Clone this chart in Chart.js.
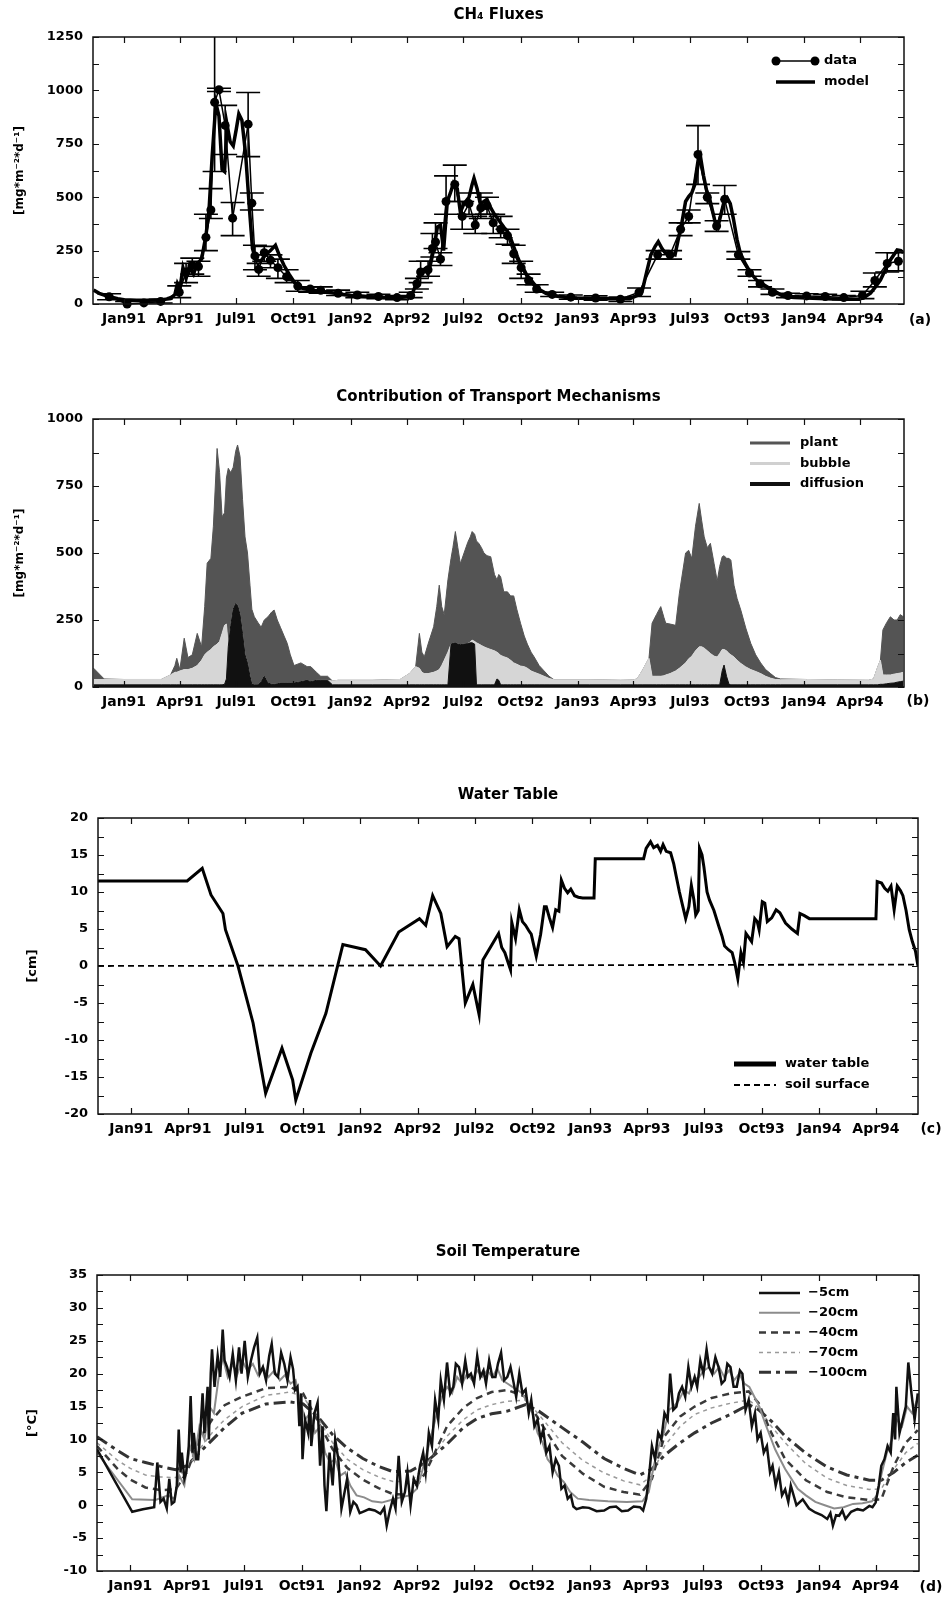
<!DOCTYPE html>
<html>
<head>
<meta charset="utf-8">
<title>CH4 fluxes, transport, water table and soil temperature</title>
<script src="https://cdn.jsdelivr.net/npm/chart.js@4.4.1/dist/chart.umd.min.js"></script>
<style>
  html, body { margin: 0; padding: 0; background: #fff; }
  body { width: 942px; height: 1598px; position: relative; overflow: hidden; }
  canvas { position: absolute; left: 0; }
</style>
</head>
<body>
<canvas id="fluxChart" width="942" height="345" style="top:0px"></canvas>
<canvas id="transportChart" width="942" height="340" style="top:380px"></canvas>
<canvas id="waterChart" width="942" height="380" style="top:770px"></canvas>
<canvas id="tempChart" width="942" height="368" style="top:1230px"></canvas>
<script>
// x values are days since 1 Jan 1991
const tickDays = [0, 90, 181, 273, 365, 456, 547, 639, 731, 821, 912, 1004, 1096, 1186];
const tickLabels = ['Jan91', 'Apr91', 'Jul91', 'Oct91', 'Jan92', 'Apr92', 'Jul92', 'Oct92',
                    'Jan93', 'Apr93', 'Jul93', 'Oct93', 'Jan94', 'Apr94'];

// (a) CH4 fluxes - model
const modelDays = [
  -49, -40, -25, -10, 0, 20, 40, 60, 75, 82,
  86, 90, 95, 100, 105, 112, 118, 125, 132, 137,
  142, 148, 153, 158, 162, 166, 171, 176, 181, 185,
  190, 196, 202, 207, 212, 220, 228, 236, 244, 250,
  258, 266, 275, 285, 300, 320, 340, 365, 390, 420,
  445, 458, 466, 478, 485, 490, 495, 500, 505, 510,
  515, 521, 526, 531, 537, 542, 548, 556, 561, 564,
  569, 574, 580, 585, 591, 597, 602, 607, 612, 618,
  624, 629, 634, 640, 645, 650, 656, 662, 670, 680,
  690, 710, 730, 760, 790, 815, 827, 835, 843, 849,
  856, 861, 867, 872, 880, 888, 893, 899, 905, 910,
  915, 920, 925, 929, 934, 939, 943, 948, 953, 957,
  962, 967, 972, 977, 982, 988, 993, 1001, 1010, 1020,
  1031, 1042, 1053, 1063, 1080, 1100, 1130, 1160, 1185, 1195,
  1203, 1211, 1219, 1227, 1235, 1246, 1252, 1256];
const modelFlux = [
  65, 50, 35, 25, 20, 18, 18, 20, 25, 45,
  95, 70, 170, 120, 175, 140, 190, 210, 320, 440,
  690, 940, 880, 630, 620, 840, 760, 740, 820, 890,
  860, 700, 450, 260, 210, 200, 230, 250, 275, 230,
  180, 140, 100, 75, 65, 58, 50, 40, 35, 30,
  30, 35, 58, 150, 165, 140, 200, 270, 360, 370,
  250, 480, 520, 566, 540, 430, 470, 500, 560, 589,
  540, 470, 480, 490, 450, 420, 400, 380, 360, 340,
  300, 260, 222, 180, 159, 130, 112, 90, 66, 50,
  40, 32, 28, 25, 24, 25, 40, 60, 159, 230,
  270, 292, 260, 240, 235, 230, 300, 380, 480, 503,
  520, 560, 650, 690, 600, 530, 503, 440, 380, 360,
  420, 480, 497, 470, 400, 300, 240, 190, 145, 110,
  90, 70, 52, 35, 30, 28, 25, 22, 22, 35,
  51, 80, 112, 160, 206, 253, 250, 240];

// (a) CH4 fluxes - measured, with error range
const obsDays = [
  -24, 5, 32, 59, 89, 100, 110, 120, 132, 140, 146, 153, 163, 175, 200,
  206, 211, 217, 226, 236, 248, 262, 280, 300, 317, 345, 376, 410, 440, 462,
  472, 478, 490, 497, 502, 510, 519, 533, 545, 556, 566, 575, 585, 595, 607,
  618, 628, 640, 652, 665, 690, 720, 760, 800, 830, 860, 880, 897, 910, 925,
  940, 955, 968, 990, 1008, 1025, 1045, 1070, 1100, 1130, 1160, 1190, 1210, 1230, 1248];
const obsFlux = [
  34, 0, 5, 12, 55, 150, 180, 175, 312, 440, 944, 1003, 836, 402, 842,
  472, 225, 162, 240, 205, 170, 128, 84, 70, 64, 50, 42, 35, 30, 40,
  95, 150, 160, 260, 290, 210, 480, 560, 410, 470, 370, 450, 460, 380, 350,
  320, 235, 170, 110, 70, 45, 32, 28, 22, 55, 230, 230, 350, 410, 700,
  500, 365, 490, 230, 145, 95, 55, 40, 38, 35, 30, 40, 110, 190, 200];
const obsLow = [
  20, -10, -5, 5, 30, 100, 140, 130, 250, 400, 620, 995, 700, 320, 690,
  440, 160, 130, 200, 170, 120, 100, 60, 55, 50, 40, 30, 25, 20, 30,
  70, 100, 130, 220, 260, 180, 420, 480, 350, 420, 330, 400, 420, 330, 310,
  280, 190, 120, 90, 55, 35, 22, 18, 12, 35, 210, 210, 320, 380, 560,
  470, 340, 420, 210, 130, 80, 45, 30, 28, 25, 20, 25, 80, 150, 155];
const obsHigh = [
  48, 12, 15, 22, 85, 190, 215, 200, 420, 540, 1300, 1010, 930, 475, 990,
  520, 275, 190, 270, 230, 210, 160, 110, 80, 80, 65, 55, 45, 40, 55,
  120, 200, 200, 330, 380, 240, 600, 650, 480, 520, 410, 520, 500, 420, 410,
  350, 275, 200, 140, 90, 55, 42, 38, 32, 75, 250, 250, 380, 440, 835,
  520, 390, 555, 245, 160, 110, 70, 50, 48, 45, 40, 60, 145, 240, 240];

// (b) transport mechanisms (stacked: diffusion, bubble, plant)
const transportDays = [
  -49, -32, 0, 60, 75, 82, 85, 90, 97, 103,
  110, 118, 125, 130, 134, 140, 144, 150, 154, 158,
  162, 165, 168, 172, 176, 180, 183, 187, 191, 195,
  199, 203, 206, 210, 216, 221, 226, 232, 238, 242,
  247, 252, 258, 263, 268, 274, 285, 295, 301, 310,
  317, 328, 336, 345, 400, 445, 460, 470, 476, 480,
  484, 490, 499, 504, 508, 512, 516, 522, 527, 530,
  534, 538, 542, 548, 554, 558, 561, 565, 568, 572,
  576, 580, 585, 591, 597, 601, 604, 607, 612, 618,
  623, 628, 633, 639, 645, 650, 656, 661, 669, 677,
  685, 693, 750, 800, 820, 827, 835, 846, 851, 858,
  865, 870, 873, 880, 889, 895, 905, 910, 915, 921,
  927, 931, 935, 940, 945, 951, 956, 960, 964, 967,
  971, 975, 978, 983, 988, 994, 1002, 1010, 1018, 1026,
  1034, 1042, 1050, 1058, 1100, 1150, 1200, 1208, 1214, 1219,
  1223, 1229, 1235, 1241, 1246, 1251, 1256];
const diffusion = [
  8, 8, 8, 8, 8, 8, 8, 8, 8, 8,
  8, 8, 8, 8, 8, 8, 8, 8, 8, 8,
  10, 30, 150, 230, 290, 312, 305, 270, 200, 120,
  90, 40, 10, 8, 8, 20, 40, 15, 10, 10,
  12, 15, 15, 15, 15, 15, 20, 25, 20, 25,
  25, 25, 8, 8, 8, 8, 8, 8, 8, 8,
  8, 8, 8, 8, 8, 8, 8, 8, 160, 163,
  165, 160, 158, 160, 162, 165, 165, 160, 8, 8,
  8, 8, 8, 8, 8, 30, 25, 8, 8, 8,
  8, 8, 8, 8, 8, 8, 8, 8, 8, 8,
  8, 8, 8, 8, 8, 8, 8, 8, 8, 8,
  8, 8, 8, 8, 8, 8, 8, 8, 8, 8,
  8, 8, 8, 8, 8, 8, 8, 8, 60, 82,
  40, 10, 8, 8, 8, 8, 8, 8, 8, 8,
  8, 8, 8, 8, 8, 8, 8, 8, 8, 10,
  10, 12, 14, 15, 18, 20, 22];
const bubble = [
  20, 20, 20, 20, 37, 47, 47, 52, 57, 57,
  62, 72, 92, 112, 122, 132, 142, 152, 162, 192,
  220, 205, 0, 0, 0, 0, 0, 0, 0, 0,
  0, 0, 0, 0, 0, 0, 0, 0, 0, 0,
  0, 0, 0, 0, 0, 0, 0, 0, 0, 0,
  0, 0, 14, 17, 17, 20, 42, 68, 62, 47,
  42, 42, 47, 52, 57, 72, 92, 122, 0, 0,
  0, 0, 0, 0, 0, 3, 10, 10, 157, 152,
  147, 142, 137, 132, 127, 100, 100, 110, 105, 100,
  92, 82, 77, 70, 68, 62, 52, 47, 40, 32,
  24, 19, 19, 17, 18, 22, 52, 99, 32, 32,
  32, 34, 37, 42, 52, 62, 82, 97, 107, 127,
  142, 142, 137, 127, 117, 107, 104, 117, 80, 58,
  95, 115, 112, 104, 92, 80, 67, 57, 50, 42,
  32, 25, 20, 19, 20, 18, 17, 22, 62, 90,
  35, 33, 31, 33, 32, 32, 33];
const plant = [
  42, 2, 0, 0, 0, 25, 52, 5, 117, 45,
  50, 120, 50, 180, 332, 340, 450, 730, 630, 435,
  420, 545, 666, 570, 530, 568, 598, 590, 500, 440,
  410, 340, 280, 254, 232, 203, 210, 247, 270, 277,
  238, 208, 175, 148, 105, 65, 70, 51, 56, 30,
  15, 15, 0, 0, 0, 0, 0, 0, 130, 75,
  63, 110, 170, 240, 315, 220, 170, 270, 320, 357,
  415, 360, 302, 340, 378, 392, 405, 400, 380, 375,
  365, 350, 345, 346, 285, 270, 295, 293, 242, 247,
  240, 250, 205, 160, 114, 90, 70, 57, 32, 20,
  8, 0, 0, 0, 0, 0, 0, 0, 198, 230,
  260, 218, 193, 185, 170, 280, 410, 405, 365, 465,
  535, 470, 415, 385, 411, 345, 283, 325, 346, 350,
  345, 355, 353, 268, 230, 199, 145, 98, 62, 40,
  25, 17, 7, 3, 0, 0, 0, 0, 0, 0,
  168, 195, 217, 202, 200, 218, 207];

// (c) water table [cm]
const waterDays = [
  -53, 89, 113, 127, 146, 150, 170, 194, 214, 240,
  257, 262, 286, 310, 337, 373, 397, 426, 459, 469,
  480, 493, 503, 516, 522, 532, 544, 554, 560, 585,
  590, 595, 600, 604, 606, 612, 618, 623, 628, 633,
  637, 645, 652, 658, 661, 666, 671, 676, 681, 685,
  690, 695, 700, 706, 712, 719, 737, 739, 816, 820,
  827, 832, 838, 843, 847, 852, 859, 864, 868, 873,
  878, 883, 888, 892, 896, 899, 903, 905, 909, 912,
  917, 921, 928, 936, 941, 945, 951, 957, 961, 966,
  971, 975, 979, 984, 988, 993, 997, 1000, 1005, 1009,
  1013, 1020, 1027, 1033, 1042, 1052, 1061, 1065, 1072, 1080,
  1186, 1188, 1195, 1200, 1205, 1210, 1215, 1220, 1225, 1229,
  1234, 1239, 1244, 1249, 1253];
const waterTable = [
  11.5, 11.5, 13.2, 9.6, 7.1, 4.9, 0, -7.7, -17.2, -11.1,
  -15.4, -18.1, -11.8, -6.4, 2.9, 2.2, 0, 4.6, 6.4, 5.5,
  9.5, 7.1, 2.6, 4.0, 3.7, -5.0, -2.5, -6.6, 0.8, 4.4,
  2.5, 1.8, 0.5, -0.5, 5.9, 3.7, 7.6, 6.0, 5.5, 4.8,
  4.3, 1.3, 4.3, 8.0, 8.0, 6.5, 5.2, 7.6, 7.4, 11.6,
  10.5, 9.9, 10.4, 9.5, 9.3, 9.2, 9.2, 14.5, 14.5, 15.9,
  16.8, 16.0, 16.3, 15.5, 16.4, 15.5, 15.3, 13.8, 12.1, 10,
  8.2, 6.4, 8, 10.9, 9, 6.9, 7.5, 15.9, 15, 13.4,
  10, 8.9, 7.5, 5.3, 4, 2.7, 2.2, 1.8, 0.5, -1.7,
  1.8, 0.5, 4.4, 3.8, 3.3, 6.4, 6.0, 4.9, 8.7, 8.5,
  6.0, 6.5, 7.6, 7.2, 5.8, 5.0, 4.4, 7.1, 6.8, 6.4,
  6.4, 11.4, 11.2, 10.5, 10.1, 10.8, 7.6, 10.8, 10.2, 9.5,
  7.5, 4.9, 3.3, 2, 0];
const surfaceDays = [-53, 1253];
const soilSurface = [0, 0.2];

// (d) soil temperature [°C]
const t5Days = [
  -53, 3, 20, 38, 43, 48, 53, 58, 62, 66,
  70, 74, 77, 80, 82, 86, 89, 93, 96, 99,
  101, 105, 108, 112, 115, 118, 120, 123, 125, 128,
  130, 134, 139, 143, 147, 150, 154, 158, 163, 168,
  173, 177, 182, 187, 192, 197, 202, 206, 211, 216,
  221, 225, 230, 235, 240, 245, 250, 255, 259, 262,
  266, 269, 272, 274, 278, 283, 286, 288, 293, 298,
  302, 306, 309, 312, 317, 322, 326, 331, 336, 341,
  345, 350, 355, 360, 365, 370, 380, 389, 398, 404,
  408, 413, 418, 422, 427, 432, 437, 441, 446, 451,
  456, 461, 466, 470, 475, 480, 485, 490, 494, 499,
  504, 509, 514, 518, 523, 528, 533, 537, 542, 547,
  552, 557, 562, 566, 571, 576, 581, 585, 590, 595,
  600, 605, 610, 614, 619, 624, 629, 634, 638, 643,
  648, 653, 657, 662, 667, 672, 677, 682, 686, 691,
  696, 701, 705, 710, 720, 730, 742, 754, 763, 773,
  782, 792, 801, 811, 816, 821, 826, 830, 835, 840,
  845, 850, 855, 859, 864, 869, 873, 878, 883, 888,
  893, 898, 902, 907, 912, 917, 921, 926, 931, 936,
  941, 946, 950, 955, 960, 965, 970, 974, 979, 984,
  989, 994, 998, 1003, 1008, 1013, 1018, 1022, 1027, 1032,
  1037, 1042, 1047, 1051, 1060, 1070, 1080, 1090, 1100, 1109,
  1114, 1118, 1123, 1128, 1133, 1138, 1147, 1157, 1166, 1176,
  1181, 1186, 1191, 1195, 1200, 1205, 1210, 1214, 1217, 1219,
  1224, 1229, 1234, 1238, 1243, 1248, 1253];
const t5 = [
  8.5, -1, -0.6, -0.3, 6.5, 0.5, 1.0, -0.5, 4.0, 0.2,
  0.5, 3, 11.5, 5, 8, 4, 5, 9, 16.6, 8,
  11, 7, 7, 12, 17, 11, 13.6, 18, 10, 20,
  23.7, 18, 22.7, 19.5, 26.7, 22, 21, 19.5, 23, 19,
  24, 20, 25, 19.5, 22, 24, 25.5, 20, 21, 19,
  22.7, 24.5, 20, 19.5, 23.2, 21.5, 19, 22.5, 20.7, 17.5,
  18, 12, 17, 7, 13, 11, 16, 9, 14, 15.6,
  6, 12, 3, -0.9, 8, 3, 10, 7, -0.5, 2,
  4, -1, 0.5, 0, -1.2, -1, -0.6, -0.8, -1.3, -0.4,
  -3.1, -0.8, 1, -0.5, 7.5, 0.5, 2, 5, 0, 4,
  3, 6, 8, 5, 11, 9, 16, 13, 19, 16,
  21.7, 17, 18, 21.5, 21, 18.5, 22, 19.5, 20, 18.5,
  22.7, 19.5, 20.5, 18.5, 22, 19.5, 19.5, 21.5, 23.2, 19,
  19.5, 21, 18.6, 16.5, 20, 17, 17.6, 14, 16, 12,
  13, 10, 11.5, 8, 9, 5, 7, 6, 2.5, 3,
  1, 1.5, -0.2, -0.6, -0.3, -0.4, -0.9, -0.8, -0.3, -0.2,
  -0.9, -0.8, -0.2, -0.3, -0.8, 1, 5, 9, 7, 11,
  10, 14, 13, 20, 14.5, 15, 17, 18, 16.5, 21,
  18, 19.5, 18, 22, 20, 23.7, 21, 20, 22.5, 21,
  18.5, 19, 21.5, 21, 18, 18, 20.5, 20, 14.5, 16,
  12, 14, 10, 11, 8, 9, 5, 6, 3, 5,
  1.5, 2.4, 0.5, 3, 0, 0.9, -0.5, -1.1, -1.5, -2.1,
  -1.2, -3.1, -1.5, -1.6, -0.8, -2.1, -1, -0.6, -0.8, -0.1,
  -0.3, 0.4, 3, 6, 7, 9, 8, 14, 10, 18,
  11, 13, 15, 21.7, 17, 13, 17];
const t20Days = [
  -53, 3, 40, 60, 70, 78, 86, 95, 102, 110,
  118, 126, 133, 140, 147, 155, 163, 170, 178, 186,
  195, 203, 211, 220, 229, 238, 246, 255, 263, 270,
  278, 286, 294, 302, 310, 318, 326, 334, 342, 350,
  360, 372, 385, 400, 415, 430, 445, 456, 464, 472,
  480, 488, 496, 504, 512, 520, 528, 536, 544, 552,
  560, 568, 576, 584, 592, 600, 608, 616, 624, 632,
  640, 648, 656, 664, 672, 680, 690, 700, 712, 730,
  760, 790, 815, 825, 833, 841, 849, 857, 865, 873,
  881, 889, 897, 905, 913, 921, 929, 937, 945, 953,
  961, 969, 977, 985, 993, 1001, 1010, 1018, 1026, 1034,
  1042, 1052, 1062, 1075, 1090, 1105, 1120, 1135, 1150, 1165,
  1180, 1188, 1196, 1204, 1212, 1220, 1228, 1236, 1244, 1252];
const t20 = [
  8.0, 0.9, 0.8, 1.5, 1.0, 4.5, 3.0, 9, 7, 12,
  10, 15, 14, 19, 22.5, 19.5, 21.5, 19.8, 22, 20.5,
  21.5, 19.8, 21, 19.5, 20.5, 19, 19.8, 18.5, 19, 16,
  13, 14, 11, 12, 8, 6.5, 7, 4.5, 5, 3,
  1.5, 1.2, 0.6, 0.4, 0.8, 1.2, 1.5, 2.5, 5, 8,
  11, 14, 16.5, 18, 17, 19.5, 18.5, 20, 19, 20.5,
  19.5, 20.5, 19.5, 20.8, 19, 18.5, 18, 17.5, 17, 15.5,
  14, 11, 9.5, 7, 6, 4.5, 3.5, 2, 1, 0.8,
  0.6, 0.5, 0.6, 2, 6, 9, 11, 14.5, 15, 16,
  17.5, 17, 19, 19.5, 20.5, 21, 20, 21, 19.5, 20.5,
  19, 20, 18.5, 18, 16.5, 15, 12.5, 10.5, 8.5, 7,
  5.5, 4, 2.5, 1.5, 0.5, 0, -0.5, -0.3, 0.2, 0.3,
  0.6, 1.5, 5, 8, 10, 13, 12, 15, 14, 16];
const deepDays = [
  -53, -20, 0, 24, 48, 72, 90, 110, 130, 150,
  178, 216, 254, 275, 300, 322, 345, 370, 395, 418,
  446, 470, 504, 530, 552, 575, 600, 629, 650, 687,
  720, 754, 785, 811, 830, 850, 875, 898, 925, 955,
  984, 1000, 1020, 1042, 1075, 1109, 1140, 1176, 1195, 1215,
  1234, 1253];
const t40 = [
  9, 5.5, 3.9, 2.7, 2.3, 2.4, 5, 10, 13, 15.2,
  16.5, 17.8, 18, 17, 12.5, 8.5, 5.7, 3.9, 2.6, 1.7,
  1.6, 5, 12, 14.8, 16.3, 17.2, 17.5, 16.5, 13, 7.5,
  4.8, 2.8, 2, 1.6, 4, 10.5, 13.5, 15, 16.3, 17,
  17.3, 15.5, 11, 7, 3.8, 2, 1.2, 0.8, 0.9, 6,
  9.5, 11.4];
const t70 = [
  9.5, 6.8, 5.6, 4.6, 4.3, 4.2, 5.5, 8.5, 11, 13,
  15, 16.7, 17.2, 16.5, 13, 9.5, 7, 5.4, 4.3, 3.6,
  3.6, 6, 10.5, 13, 14.5, 15.3, 15.8, 16, 13.8, 9.5,
  6.8, 4.9, 3.7, 3.1, 4.5, 9, 12, 13.8, 14.8, 15.5,
  16, 14.8, 12, 9.5, 6.3, 4.1, 3, 2.4, 2.5, 5.5,
  8, 9.4];
const t100 = [
  10.4, 8.3, 7.1, 6.5, 5.9, 5.4, 6, 8, 9.9, 11.8,
  14, 15.4, 15.7, 15.4, 13.3, 10.7, 8.7, 7.1, 5.9, 5.1,
  5.2, 6.5, 9.3, 11.8, 13.2, 13.9, 14.3, 15.3, 14.3, 11.8,
  9.6, 7.1, 5.6, 4.6, 5.5, 7.6, 9.5, 11, 12.5, 13.8,
  15.3, 14.5, 12.8, 10.5, 7.9, 5.8, 4.6, 3.8, 3.8, 5,
  6.5, 7.6];

const pts = (xs, ys) => xs.map((x, i) => ({ x: x, y: ys[i] }));

Chart.defaults.font.family = '"DejaVu Sans", sans-serif';
Chart.defaults.font.size = 13;
Chart.defaults.font.weight = 'bold';
Chart.defaults.color = '#000';

// frame, inward ticks, title, panel tag, legend and error bars
const panelDecor = {
  id: 'panelDecor',
  afterDatasetsDraw(chart, args, o) {
    if (!o.errorBars) return;
    const { ctx, chartArea: a, scales: { x, y } } = chart;
    const eb = o.errorBars;
    ctx.save();
    ctx.beginPath();
    ctx.rect(a.left, a.top, a.width, a.height);
    ctx.clip();
    ctx.strokeStyle = '#000';
    ctx.lineWidth = 1.6;
    eb.days.forEach((d, i) => {
      const px = x.getPixelForValue(d);
      const lo = y.getPixelForValue(eb.low[i]);
      const hi = y.getPixelForValue(eb.high[i]);
      ctx.beginPath();
      ctx.moveTo(px, lo); ctx.lineTo(px, hi);
      ctx.moveTo(px - eb.cap, lo); ctx.lineTo(px + eb.cap, lo);
      ctx.moveTo(px - eb.cap, hi); ctx.lineTo(px + eb.cap, hi);
      ctx.stroke();
    });
    ctx.restore();
  },
  afterDraw(chart, args, o) {
    const { ctx, chartArea: a, scales: { x, y } } = chart;
    ctx.save();
    ctx.strokeStyle = '#111';
    ctx.lineWidth = 1.5;
    ctx.strokeRect(a.left, a.top, a.width, a.height);

    ctx.lineWidth = 1.2;
    ctx.beginPath();
    tickDays.forEach(d => {
      const px = Math.round(x.getPixelForValue(d)) + 0.5;
      ctx.moveTo(px, a.bottom); ctx.lineTo(px, a.bottom - 6);
      ctx.moveTo(px, a.top); ctx.lineTo(px, a.top + 6);
    });
    for (let v = y.min; v <= y.max + 1e-9; v += o.yMinor) {
      const py = Math.round(y.getPixelForValue(v)) + 0.5;
      ctx.moveTo(a.left, py); ctx.lineTo(a.left + 6, py);
      ctx.moveTo(a.right, py); ctx.lineTo(a.right - 6, py);
    }
    ctx.stroke();

    ctx.fillStyle = '#000';
    ctx.textBaseline = 'middle';
    ctx.textAlign = 'center';
    ctx.font = 'bold 15px "DejaVu Sans"';
    ctx.fillText(o.title, (a.left + a.right) / 2, o.titleY);
    ctx.font = 'bold 14px "DejaVu Sans"';
    ctx.fillText(o.tag, o.tagX, o.tagY);

    const lg = o.legend;
    ctx.font = 'bold 13px "DejaVu Sans"';
    ctx.textAlign = 'left';
    lg.items.forEach((it, i) => {
      const ly = lg.y + i * lg.gap;
      ctx.save();
      ctx.strokeStyle = it.color;
      ctx.lineWidth = it.width;
      ctx.setLineDash(it.dash || []);
      ctx.beginPath();
      ctx.moveTo(lg.x, ly); ctx.lineTo(lg.x + lg.len, ly);
      ctx.stroke();
      if (it.marker) {
        ctx.fillStyle = it.color;
        [lg.x, lg.x + lg.len].forEach(mx => {
          ctx.beginPath();
          ctx.arc(mx, ly, it.marker, 0, Math.PI * 2);
          ctx.fill();
        });
      }
      ctx.restore();
      ctx.fillText(it.text, lg.x + lg.len + lg.textGap, ly);
    });
    ctx.restore();
  }
};

function makeChart(id, g, datasets, decor) {
  return new Chart(document.getElementById(id), {
    type: 'line',
    data: { datasets: datasets },
    options: {
      responsive: false,
      animation: false,
      devicePixelRatio: 1,
      layout: { padding: { top: g.top, right: 942 - g.right, bottom: 0, left: 0 } },
      elements: { point: { radius: 0 }, line: { tension: 0 } },
      plugins: { legend: { display: false }, tooltip: { enabled: false }, panelDecor: decor },
      scales: {
        x: {
          type: 'linear', min: g.xMin, max: g.xMax, bounds: 'data',
          afterBuildTicks: s => { s.ticks = tickDays.map(v => ({ value: v })); },
          afterFit: s => { s.height = g.height - g.bottom; },
          grid: { display: false, drawTicks: false },
          border: { display: false },
          ticks: { autoSkip: false, maxRotation: 0, padding: 7, font: { size: 14 },
                   callback: v => tickLabels[tickDays.indexOf(v)] }
        },
        y: {
          min: g.yMin, max: g.yMax, stacked: !!g.stacked,
          afterFit: s => { s.width = g.left; },
          grid: { display: false, drawTicks: false },
          border: { display: false },
          title: { display: true, text: g.yTitle, font: { size: g.yTitleSize },
                   padding: { top: g.yTitlePad, bottom: 0 } },
          ticks: { stepSize: g.yStep, padding: 10, callback: v => String(v) }
        }
      }
    },
    plugins: [panelDecor]
  });
}

// (a)
makeChart('fluxChart',
  { top: 37, bottom: 304, height: 345, left: 93, right: 904, xMin: -50, xMax: 1257,
    yMin: 0, yMax: 1250, yStep: 250, yTitle: '[mg*m⁻²*d⁻¹]', yTitleSize: 12, yTitlePad: 13 },
  [
    { data: pts(modelDays, modelFlux), borderColor: '#000', borderWidth: 3.5 },
    { data: pts(obsDays, obsFlux), borderColor: '#000', borderWidth: 1.5, clip: 6,
      pointRadius: 4.5, pointBackgroundColor: '#000', pointBorderWidth: 0 }
  ],
  { title: 'CH₄ Fluxes', titleY: 15, tag: '(a)', tagX: 920, tagY: 320, yMinor: 125,
    errorBars: { days: obsDays, low: obsLow, high: obsHigh, cap: 12 },
    legend: { x: 776, y: 61, gap: 21, len: 39, textGap: 9, items: [
      { text: 'data', color: '#000', width: 1.5, marker: 4.5 },
      { text: 'model', color: '#000', width: 3.5 } ] } });

// (b)
makeChart('transportChart',
  { top: 39, bottom: 307, height: 340, left: 93, right: 904, xMin: -50, xMax: 1257,
    yMin: 0, yMax: 1000, yStep: 250, stacked: true,
    yTitle: '[mg*m⁻²*d⁻¹]', yTitleSize: 12, yTitlePad: 13 },
  [
    { data: pts(transportDays, diffusion), borderColor: '#111', backgroundColor: '#111',
      borderWidth: 1, fill: 'origin' },
    { data: pts(transportDays, bubble), borderColor: '#d6d6d6', backgroundColor: '#d6d6d6',
      borderWidth: 1, fill: '-1' },
    { data: pts(transportDays, plant), borderColor: '#545454', backgroundColor: '#545454',
      borderWidth: 1, fill: '-1' }
  ],
  { title: 'Contribution of Transport Mechanisms', titleY: 17, tag: '(b)', tagX: 918, tagY: 321,
    yMinor: 125,
    legend: { x: 750, y: 63, gap: 20.5, len: 40, textGap: 10, items: [
      { text: 'plant', color: '#555', width: 3 },
      { text: 'bubble', color: '#d0d0d0', width: 3 },
      { text: 'diffusion', color: '#111', width: 4 } ] } });

// (c)
makeChart('waterChart',
  { top: 48, bottom: 344, height: 380, left: 98, right: 918, xMin: -53, xMax: 1253,
    yMin: -20, yMax: 20, yStep: 5, yTitle: '[cm]', yTitleSize: 13, yTitlePad: 25 },
  [
    { data: pts(waterDays, waterTable), borderColor: '#000', borderWidth: 3 },
    { data: pts(surfaceDays, soilSurface), borderColor: '#000', borderWidth: 1.8,
      borderDash: [6, 4] }
  ],
  { title: 'Water Table', titleY: 25, tag: '(c)', tagX: 931, tagY: 359, yMinor: 2.5,
    legend: { x: 734, y: 294, gap: 21, len: 42, textGap: 9, items: [
      { text: 'water table', color: '#000', width: 5 },
      { text: 'soil surface', color: '#000', width: 1.8, dash: [6, 4] } ] } });

// (d)
makeChart('tempChart',
  { top: 45, bottom: 341, height: 368, left: 97, right: 919, xMin: -53, xMax: 1255,
    yMin: -10, yMax: 35, yStep: 5, yTitle: '[°C]', yTitleSize: 13, yTitlePad: 25 },
  [
    { data: pts(t5Days, t5), borderColor: '#111', borderWidth: 2.5 },
    { data: pts(t20Days, t20), borderColor: '#8c8c8c', borderWidth: 2 },
    { data: pts(deepDays, t40), borderColor: '#3a3a3a', borderWidth: 2.5, borderDash: [7, 5] },
    { data: pts(deepDays, t70), borderColor: '#9a9a9a', borderWidth: 1.5, borderDash: [4, 4] },
    { data: pts(deepDays, t100), borderColor: '#333', borderWidth: 3, borderDash: [12, 5, 4, 5] }
  ],
  { title: 'Soil Temperature', titleY: 22, tag: '(d)', tagX: 931, tagY: 357, yMinor: 2.5,
    legend: { x: 759, y: 63, gap: 19.8, len: 41, textGap: 8, items: [
      { text: '−5cm', color: '#111', width: 2.5 },
      { text: '−20cm', color: '#8c8c8c', width: 2 },
      { text: '−40cm', color: '#3a3a3a', width: 2.5, dash: [7, 5] },
      { text: '−70cm', color: '#9a9a9a', width: 1.5, dash: [4, 4] },
      { text: '−100cm', color: '#333', width: 3, dash: [12, 5, 4, 5] } ] } });
</script>
</body>
</html>
